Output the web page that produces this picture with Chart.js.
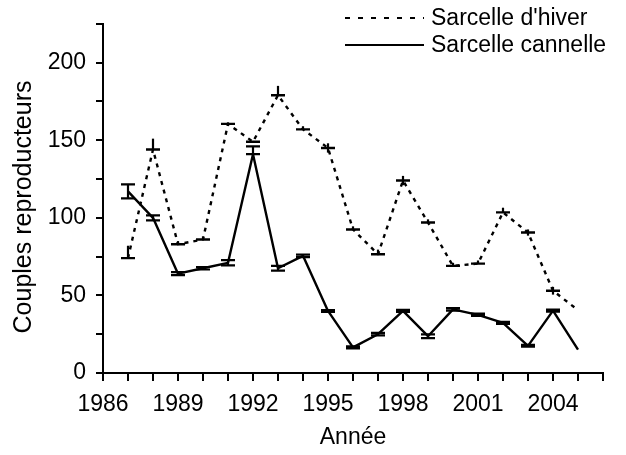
<!DOCTYPE html>
<html>
<head>
<meta charset="utf-8">
<script src="https://cdn.jsdelivr.net/npm/chart.js@4/dist/chart.umd.min.js"></script>
<style>
  html, body { margin: 0; padding: 0; background: #fff; }
  #wrap { width: 626px; height: 455px; }
</style>
</head>
<body>
<div id="wrap"><canvas id="c" width="626" height="455"></canvas></div>
<script>
// ---- data ----
const years = [1987,1988,1989,1990,1991,1992,1993,1994,1995,1996,1997,1998,1999,2000,2001,2002,2003,2004,2005];
const hiver = [74,144,83,86,160.5,149,179,157,145,92.5,76.5,124,97,69,70.5,103.5,90.5,53,40.5];
const hiverErrUp   = [8,7,2,2,1,0,6,2,3,2,3,3,2,2,2,3,2,2.5,null];
const hiverErrDown = [0,0,0,0,1,0,0,0,3,0,0,3,0,0,0,0,2,2.5,null];
const cannelle = [117,100,64,67.5,71,141,67.5,75.5,40,16.5,25,40,23.7,41,37.5,32.3,17.5,40.2,15];
const cannelleErrUp   = [4.5,1.6,1,0.8,1.7,5,1.5,0.8,0.6,0.6,0.8,0.7,1.2,0.8,0.7,0.7,0.6,0.7,null];
const cannelleErrDown = [4.5,1.6,1,0.8,1.7,0,1.5,0.8,0.6,0.6,0.8,0.7,1.2,0.8,0.7,0.7,0.6,0.7,null];
const seriesNames = ["Sarcelle d'hiver", "Sarcelle cannelle"];
const xTitle = "Année";
const yTitle = "Couples reproducteurs";

const FONT = "'Liberation Sans', Arial, sans-serif";

const errorBars = {
  id: 'errorBars',
  afterDatasetsDraw(chart) {
    const ctx = chart.ctx;
    const ys = chart.scales.y, xs = chart.scales.x;
    chart.data.datasets.forEach((ds) => {
      if (!ds.errUp) return;
      ctx.save();
      ctx.strokeStyle = '#000';
      ctx.lineWidth = 2.2;
      ctx.setLineDash([]);
      ds.data.forEach((p, i) => {
        const up = ds.errUp[i], dn = ds.errDown[i];
        if (up == null) return;
        const px = xs.getPixelForValue(p.x);
        const yTop = ys.getPixelForValue(p.y + up);
        const yBot = ys.getPixelForValue(p.y - dn);
        ctx.beginPath();
        ctx.moveTo(px, yTop); ctx.lineTo(px, yBot);
        ctx.stroke();
        if (ds.errCaps) {
          const w = 7;
          ctx.beginPath();
          ctx.moveTo(px - w, yTop); ctx.lineTo(px + w, yTop);
          ctx.moveTo(px - w, yBot); ctx.lineTo(px + w, yBot);
          ctx.stroke();
        }
      });
      ctx.restore();
    });
  }
};

const customLegend = {
  id: 'customLegend',
  afterDraw(chart) {
    const ctx = chart.ctx;
    ctx.save();
    ctx.strokeStyle = '#000';
    ctx.fillStyle = '#000';
    ctx.lineWidth = 2.2;
    ctx.font = "23px " + FONT;
    ctx.textBaseline = 'middle';
    ctx.textAlign = 'left';
    const rows = [{dash: [5, 8], y: 18}, {dash: [], y: 45}];
    rows.forEach((r, i) => {
      ctx.setLineDash(r.dash);
      ctx.beginPath();
      ctx.moveTo(345, r.y); ctx.lineTo(424, r.y);
      ctx.stroke();
      ctx.setLineDash([]);
      ctx.fillText(seriesNames[i], 431, r.y + 1);
    });
    // y axis title
    ctx.translate(24, 207);
    ctx.rotate(-Math.PI / 2);
    ctx.textAlign = 'center';
    ctx.font = "25px " + FONT;
    ctx.fillText(yTitle, 0, 0);
    ctx.restore();
  }
};

const toPts = (vals) => years.map((y, i) => ({x: y, y: vals[i]}));

new Chart(document.getElementById('c'), {
  type: 'line',
  data: {
    datasets: [
      {
        label: seriesNames[0],
        data: toPts(hiver),
        borderColor: '#000',
        backgroundColor: '#000',
        borderWidth: 2.4,
        borderDash: [4, 5],
        tension: 0,
        pointStyle: 'line',
        pointRadius: years.map((y, i) => i === years.length - 1 ? 0 : 7),
        pointBorderWidth: 2.4,
        pointBorderColor: '#000',
        errUp: hiverErrUp,
        errDown: hiverErrDown,
        errCaps: false
      },
      {
        label: seriesNames[1],
        data: toPts(cannelle),
        borderColor: '#000',
        backgroundColor: '#000',
        borderWidth: 2.4,
        tension: 0,
        pointRadius: 0,
        errUp: cannelleErrUp,
        errDown: cannelleErrDown,
        errCaps: true
      }
    ]
  },
  options: {
    responsive: false,
    animation: false,
    layout: { padding: { left: 0, right: 23, top: 22, bottom: 0 } },
    plugins: { legend: { display: false }, tooltip: { enabled: false } },
    elements: { line: { borderJoinStyle: 'round' } },
    scales: {
      x: {
        type: 'linear',
        min: 1986, max: 2006,
        afterFit: (s) => { s.height = 82; },
        border: { display: true, color: '#000', width: 2 },
        grid: { drawOnChartArea: false, drawTicks: true, tickLength: 8, color: '#000', lineWidth: 2 },
        ticks: {
          stepSize: 1, autoSkip: false, maxRotation: 0, padding: 10,
          color: '#000', font: { family: FONT, size: 23 },
          callback: (v) => (v % 3 === 0 && v <= 2004) ? String(v) : ''
        },
        title: { display: true, text: xTitle, color: '#000', font: { family: FONT, size: 23 }, padding: { top: 0, bottom: 4 } }
      },
      y: {
        min: 0, max: 225,
        afterFit: (s) => { s.width = 103; },
        border: { display: true, color: '#000', width: 2 },
        grid: { drawOnChartArea: false, drawTicks: true, tickLength: 7, color: '#000', lineWidth: 2 },
        ticks: {
          stepSize: 25, autoSkip: false, padding: 10,
          color: '#000', font: { family: FONT, size: 23 },
          callback: (v) => (v % 50 === 0) ? String(v) : ''
        },
        title: { display: false }
      }
    }
  },
  plugins: [errorBars, customLegend]
});
</script>
</body>
</html>
